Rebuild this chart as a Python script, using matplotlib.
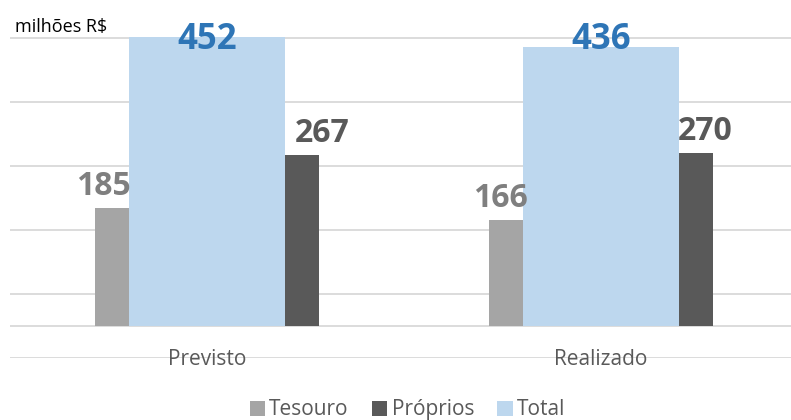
import matplotlib
matplotlib.use("Agg")
import matplotlib.pyplot as plt
from matplotlib.patches import Patch

plt.rcParams['font.family'] = ['Open Sans', 'DejaVu Sans']

categories = ["Previsto", "Realizado"]
tesouro = [185, 166]
proprios = [267, 270]
total = [452, 436]
series_names = ["Tesouro", "Próprios", "Total"]
unit_label = "milhões R$"

c_tes = "#A5A5A5"
c_pro = "#595959"
c_tot = "#BDD7EE"
c_tes_lbl = "#7F7F7F"
c_pro_lbl = "#595959"
c_tot_lbl = "#2E75B6"
c_grid = "#D9D9D9"

W, H = 791, 420
fig = plt.figure(figsize=(W / 100, H / 100), dpi=100)
ax = fig.add_axes([10 / W, 62 / H, (W - 10) / W, (358 - 34.8) / H])
ax.set_xlim(-0.5, 1.482)
ax.set_ylim(-50, 455)
for s in ax.spines.values():
    s.set_visible(False)
ax.set_xticks([])
ax.set_yticks([])

for g in [-50, 50, 150, 250, 350, 450, 0]:
    ax.axhline(g, color=c_grid, lw=1.3, zorder=1)

x = list(range(len(categories)))
off = 0.242
nw = 0.0863
tw = 0.398
ax.bar([i - off for i in x], tesouro, width=nw, color=c_tes, zorder=2)
ax.bar([i + off for i in x], proprios, width=nw, color=c_pro, zorder=2)
ax.bar(x, total, width=tw, color=c_tot, zorder=3)

tes_dx = [-8, -5]
pro_dx = [20, 9]
for i in x:
    ax.annotate(str(tesouro[i]), (i - off, tesouro[i]), xytext=(tes_dx[i] * 0.72, 9.4),
                textcoords='offset points', ha='center', va='baseline',
                fontsize=23, fontweight='bold', color=c_tes_lbl, zorder=5)
    ax.annotate(str(proprios[i]), (i + off, proprios[i]), xytext=(pro_dx[i] * 0.72, 9.4),
                textcoords='offset points', ha='center', va='baseline',
                fontsize=23, fontweight='bold', color=c_pro_lbl, zorder=5)
    ax.annotate(str(total[i]), (i, min(total[i], 433)), xytext=(0, 0),
                textcoords='offset points', ha='center', va='baseline',
                fontsize=25, fontweight='bold', color=c_tot_lbl, zorder=5,
                annotation_clip=False)
    ax.text(i, -61, categories[i], ha='center', va='baseline', fontsize=15,
            color="#595959", clip_on=False, zorder=5)

fig.text(15 / W, (H - 32) / H, unit_label, fontsize=13, color="black",
         ha='left', va='baseline')

handles = [Patch(facecolor=c_tes), Patch(facecolor=c_pro), Patch(facecolor=c_tot)]
leg = fig.legend(handles, series_names, loc='center', bbox_to_anchor=(0.515, 0.024),
                 ncol=3, frameon=False, fontsize=15, handlelength=0.75,
                 handleheight=0.75, handletextpad=0.2, columnspacing=1.1,
                 borderpad=0)
for t in leg.get_texts():
    t.set_color("#595959")

fig.savefig("out.png", dpi=100)
